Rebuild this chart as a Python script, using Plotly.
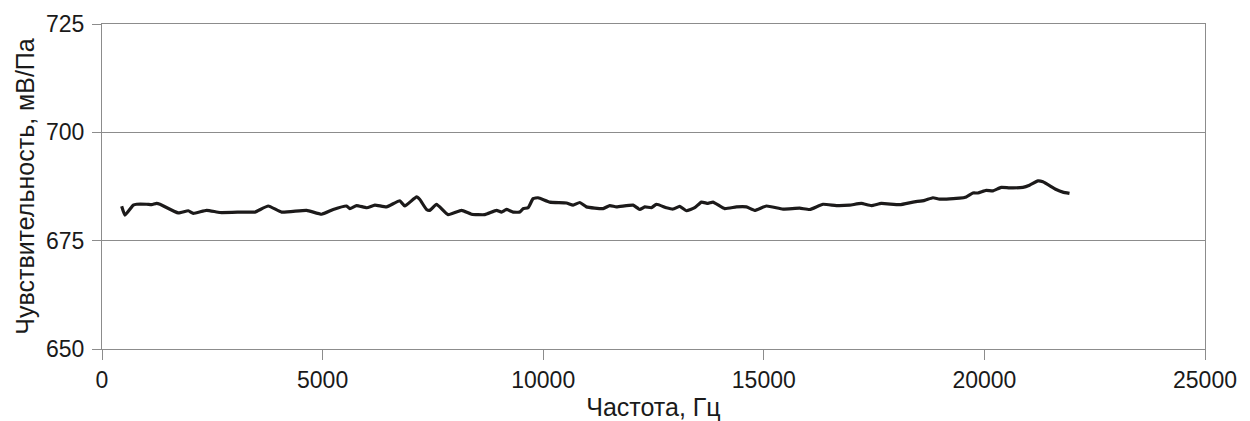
import plotly.graph_objects as go

# Frequency response of microphone sensitivity
freq_hz = [
    446, 521, 709, 785, 1012, 1125, 1238, 1314, 1729, 1956,
    2070, 2372, 2674, 3202, 3466, 3768, 4071, 4637, 4977, 5241,
    5543, 5619, 5770, 6000, 6185, 6450, 6751, 6864, 7130, 7204,
    7355, 7431, 7582, 7846, 8149, 8375, 8677, 8942, 9055, 9168,
    9319, 9470, 9545, 9658, 9771, 9884, 10149, 10527, 10678, 10829,
    10980, 11358, 11509, 11660, 12037, 12189, 12302, 12453, 12566, 12793,
    12944, 13095, 13246, 13434, 13586, 13736, 13849, 14114, 14379, 14605,
    14794, 15058, 15435, 15813, 16040, 16342, 16644, 16946, 17210, 17437,
    17664, 18079, 18381, 18645, 18834, 18985, 19437, 19588, 19739, 19853,
    20041, 20192, 20381, 20570, 20872, 21023, 21212, 21325, 21627, 21778,
    21929,
]
sensitivity_mv_pa = [
    682.95, 680.9, 683.2, 683.4, 683.4, 683.3, 683.6, 683.4, 681.4, 681.9,
    681.3, 682.0, 681.5, 681.6, 681.6, 683.0, 681.6, 682.0, 681.1, 682.2,
    683.0, 682.4, 683.1, 682.6, 683.2, 682.8, 684.2, 683.0, 685.1, 684.5,
    682.2, 682.0, 683.4, 681.0, 682.0, 681.1, 681.0, 682.0, 681.6, 682.2,
    681.6, 681.6, 682.4, 682.6, 684.7, 684.9, 683.9, 683.7, 683.2, 683.8,
    682.8, 682.4, 683.1, 682.8, 683.2, 682.2, 682.8, 682.6, 683.4, 682.6,
    682.3, 682.9, 681.9, 682.6, 683.9, 683.6, 683.9, 682.4, 682.8, 682.8,
    682.0, 683.0, 682.3, 682.5, 682.2, 683.4, 683.1, 683.2, 683.6, 683.1,
    683.6, 683.3, 683.9, 684.3, 684.9, 684.6, 684.8, 685.1, 686.0, 686.0,
    686.6, 686.5, 687.3, 687.2, 687.3, 687.8, 688.8, 688.6, 686.8, 686.2,
    685.9,
]

x_ticks = [0, 5000, 10000, 15000, 20000, 25000]
y_ticks = [650, 675, 700, 725]

FONT = "Liberation Sans, Arial, sans-serif"
GRID = "#8c8c8c"

fig = go.Figure()
fig.add_trace(go.Scatter(
    x=freq_hz, y=sensitivity_mv_pa, mode="lines",
    line=dict(color="#1c1a1a", width=3.2, shape="spline", smoothing=0.4),
    showlegend=False, hoverinfo="skip",
))

fig.update_layout(
    width=1250, height=421,
    margin=dict(l=102, r=45, t=24, b=72),
    paper_bgcolor="white", plot_bgcolor="white",
    font=dict(family=FONT, size=23, color="#1a1a1a"),
)
fig.update_xaxes(
    range=[0, 25000], tickvals=x_ticks, ticktext=[str(t) for t in x_ticks],
    showgrid=False, zeroline=False, automargin=False,
    showline=True, linecolor=GRID, linewidth=1.3, mirror=True,
    ticks="outside", ticklen=10, tickcolor=GRID, tickwidth=1.3,
    tickfont=dict(size=23),
    title=dict(text="Частота, Гц", font=dict(size=25), standoff=7),
)
fig.update_yaxes(
    range=[650, 725], tickvals=y_ticks, ticktext=[str(t) for t in y_ticks],
    showgrid=True, gridcolor=GRID, gridwidth=1.3, zeroline=False, automargin=False,
    showline=True, linecolor=GRID, linewidth=1.3, mirror=True,
    ticks="outside", ticklen=9, tickcolor=GRID, tickwidth=1.3,
    tickfont=dict(size=23), ticklabelstandoff=3,
    title=dict(text="Чувствительность, мВ/Па", font=dict(size=25), standoff=4),
)

fig.write_html("out.html")
